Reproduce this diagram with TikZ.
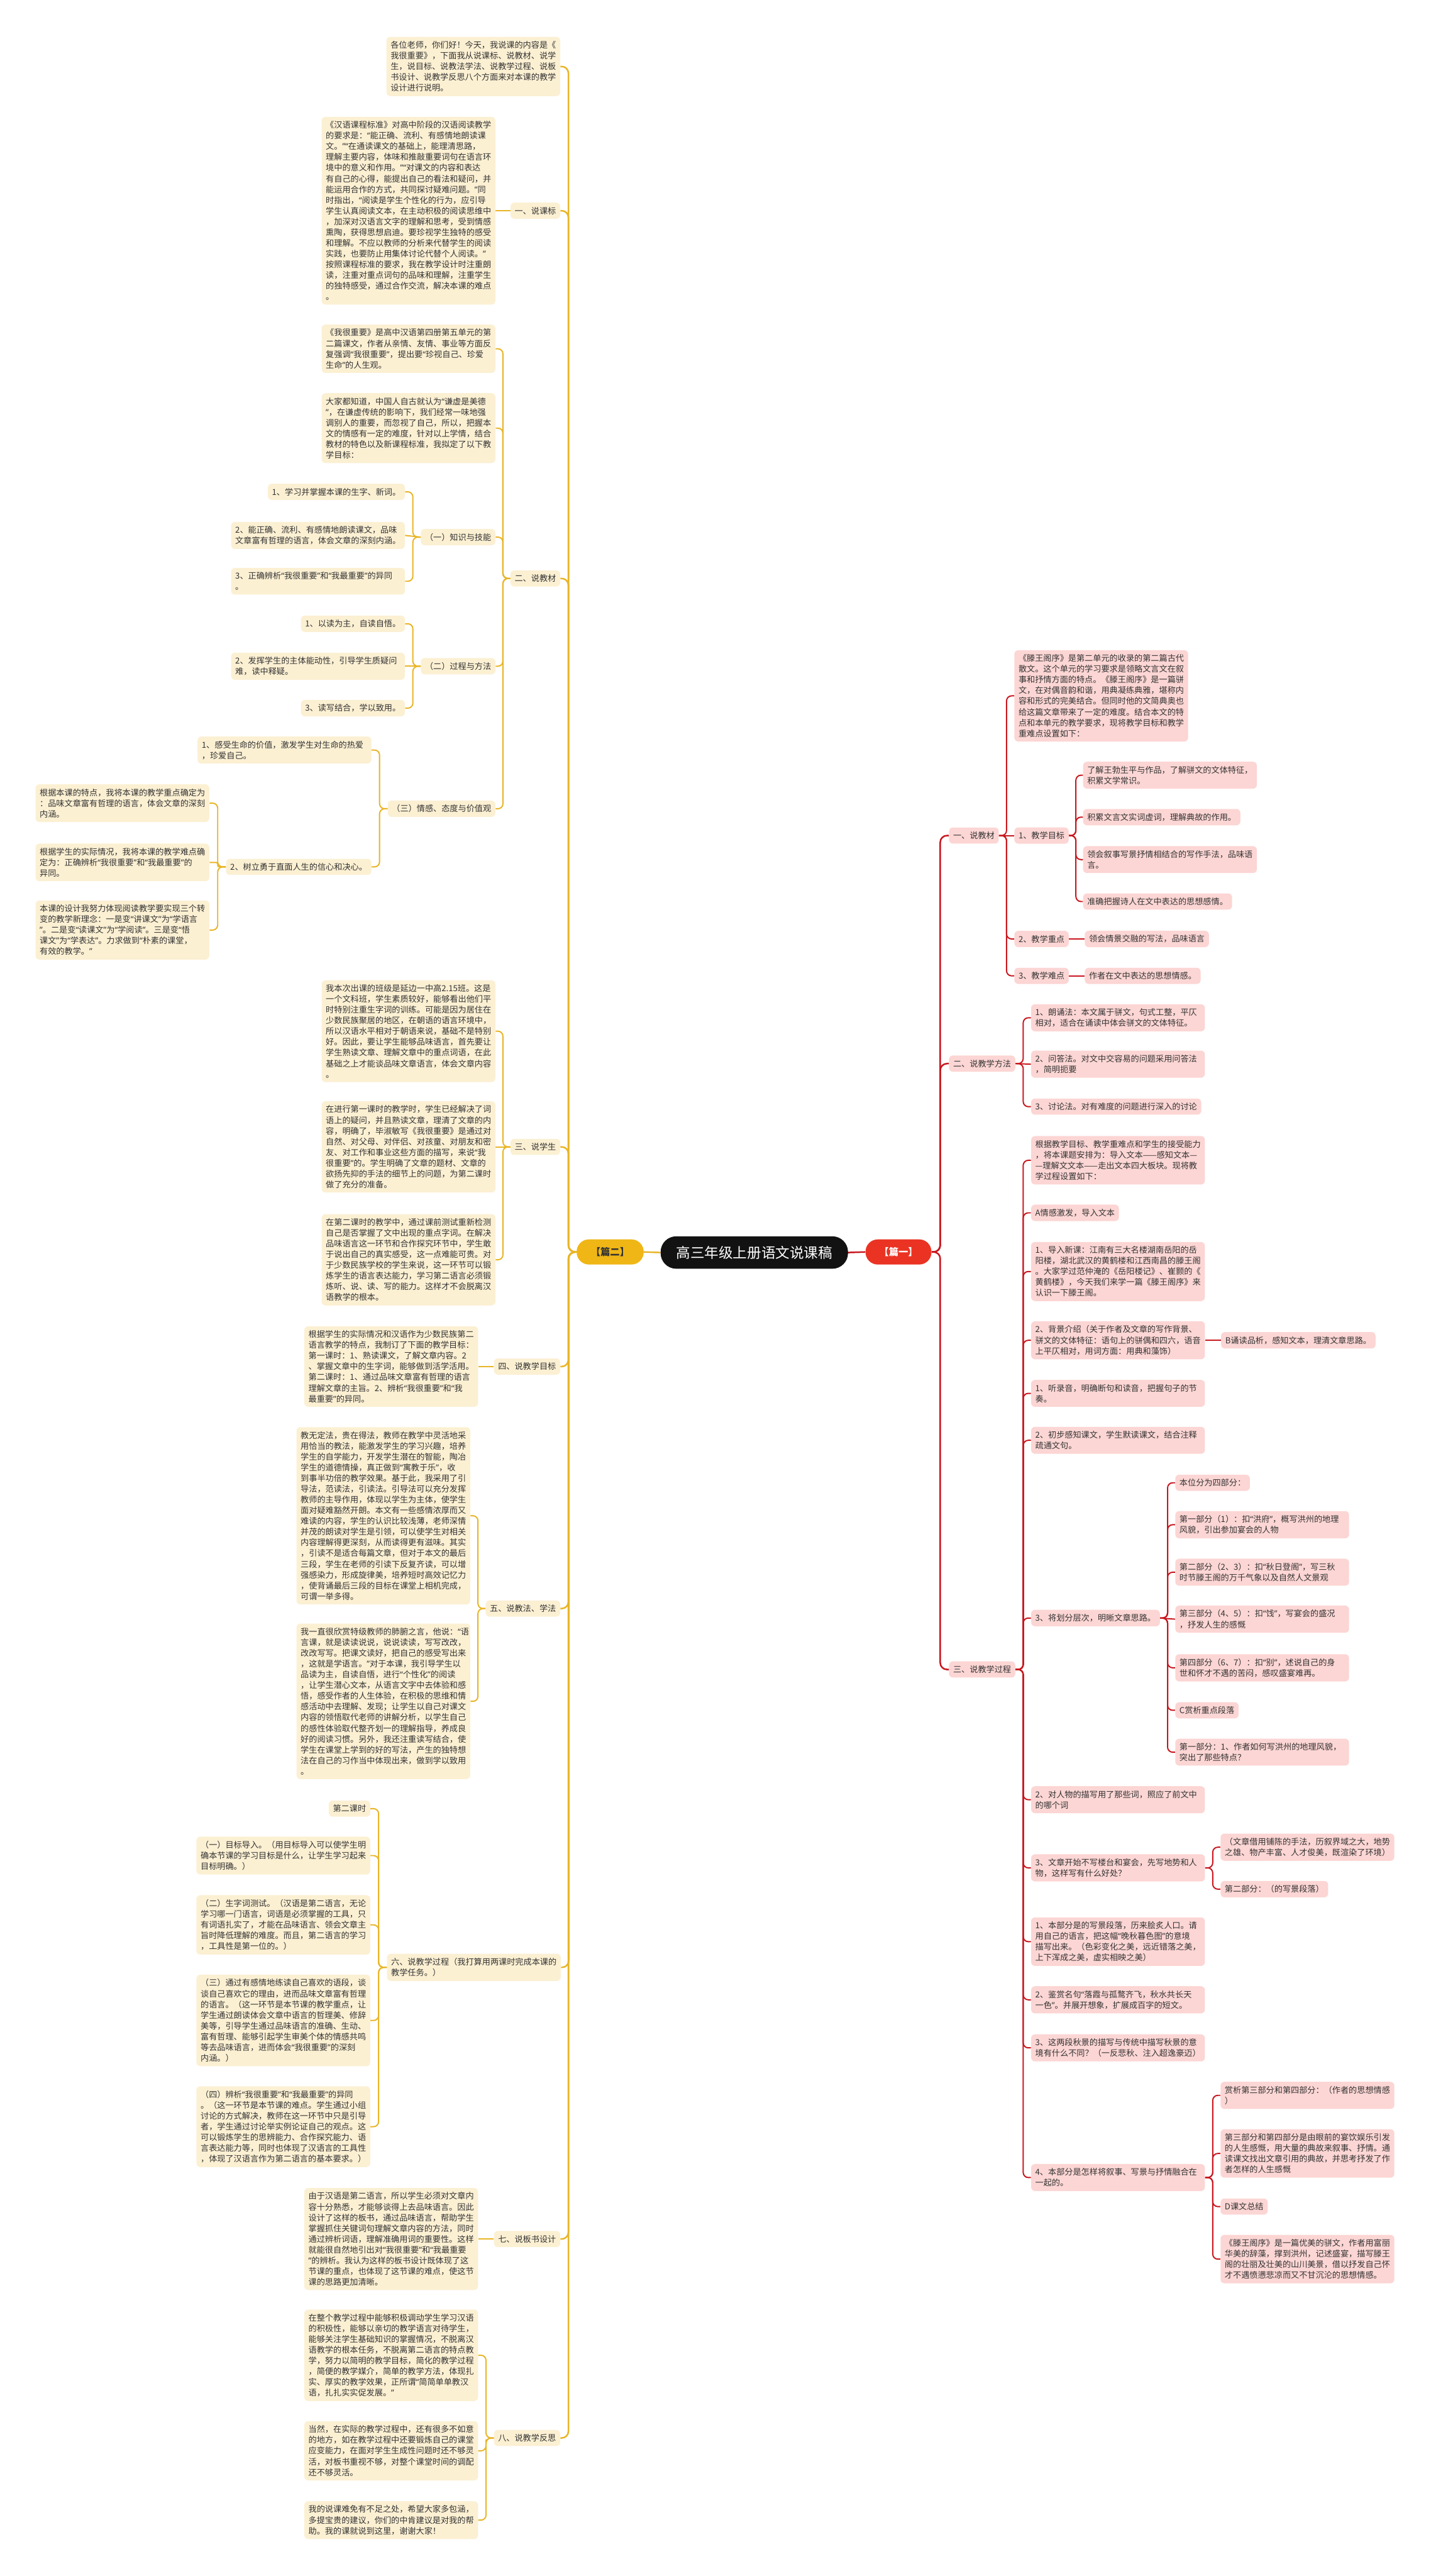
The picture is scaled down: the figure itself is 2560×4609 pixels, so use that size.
\documentclass[tikz,border=0pt]{standalone}
\usepackage{fontspec}
\usetikzlibrary{calc}
\newfontfamily\cjk{Noto Sans CJK SC}
\newfontfamily\qfont{Noto Sans}
\definecolor{lfill}{HTML}{FCF0D3}
\definecolor{rfill}{HTML}{FCD6D4}
\definecolor{lline}{HTML}{E8B526}
\definecolor{rline}{HTML}{C8171E}
\definecolor{txt}{HTML}{333333}
\definecolor{redc}{HTML}{EB3323}
\definecolor{yelc}{HTML}{EFB616}
\catcode`“=\active
\protected\def“{{\qfont\char"201C}}
\catcode`”=\active
\protected\def”{{\qfont\char"201D}}
\tikzset{
  base/.style={rounded corners=3.5pt, inner xsep=3.75pt, inner ysep=3.8pt,
    font=\cjk\fontsize{7.4}{9.6}\selectfont, align=left, text=txt},
  lb/.style={base, fill=lfill},
  rb/.style={base, fill=rfill},
  wide/.style={text width=148pt},
  ll1/.style={draw=lline, line width=1.4pt, rounded corners=6pt},
  ll2/.style={draw=lline, line width=1.1pt, rounded corners=4.5pt},
  rl1/.style={draw=rline, line width=1.4pt, rounded corners=6pt},
  rl2/.style={draw=rline, line width=1.1pt, rounded corners=4.5pt},
}
\newcommand\cn[3]{\draw[#1] (#2) -| ($(#2)!0.5!(#3)$) |- (#3);}
\newcommand\sn[3]{\draw[#1] (#2) -- (#3);}
\begin{document}
\begin{tikzpicture}[x=0.5pt,y=-0.5pt]
\fill[white] (0,0) rectangle (2560,4609);
\useasboundingbox (0,0) rectangle (2560,4609);

% ---------- centre ----------
\node[fill=black!93, text=white, rounded corners=14pt, minimum height=29pt, inner xsep=14pt,
  font=\cjk\fontsize{12.7}{14}\selectfont] (C) at (1350,2241) {高三年级上册语文说课稿};
\node[fill=redc, text=white, rounded corners=11pt, minimum height=22.5pt, minimum width=59pt,
  font=\cjk\bfseries\fontsize{8.6}{10}\selectfont] (P1) at (1608,2240) {【篇一】};
\node[fill=yelc, text=txt, rounded corners=11pt, minimum height=22.5pt, minimum width=60pt,
  font=\cjk\bfseries\fontsize{8.6}{10}\selectfont] (P2) at (1092,2240) {【篇二】};
\draw[rline, line width=1.4pt] (C.east) -- (P1.west);
\draw[lline, line width=1.4pt] (C.west) -- (P2.east);

% ================= LEFT (篇二) =================
\node[lb,wide,anchor=east] (L0) at (1003,119) {各位老师，你们好！今天，我说课的内容是《\\我很重要》，下面我从说课标、说教材、说学\\生，说目标、说教法学法、说教学过程、说板\\书设计、说教学反思八个方面来对本课的教学\\设计进行说明。};

\node[lb,anchor=east] (L1) at (1003,377) {一、说课标};
\node[lb,wide,anchor=east] (L1a) at (887,377) {《汉语课程标准》对高中阶段的汉语阅读教学\\的要求是：“能正确、流利、有感情地朗读课\\文。”“在通读课文的基础上，能理清思路，\\理解主要内容，体味和推敲重要词句在语言环\\境中的意义和作用。”“对课文的内容和表达\\有自己的心得，能提出自己的看法和疑问，并\\能运用合作的方式，共同探讨疑难问题。”同\\时指出，“阅读是学生个性化的行为，应引导\\学生认真阅读文本，在主动积极的阅读思维中\\，加深对汉语言文字的理解和思考，受到情感\\熏陶，获得思想启迪。要珍视学生独特的感受\\和理解。不应以教师的分析来代替学生的阅读\\实践，也要防止用集体讨论代替个人阅读。”\\按照课程标准的要求，我在教学设计时注重朗\\读，注重对重点词句的品味和理解，注重学生\\的独特感受，通过合作交流，解决本课的难点\\。};

\node[lb,anchor=east] (L2) at (1003,1035) {二、说教材};
\node[lb,wide,anchor=east] (L2a) at (887,624) {《我很重要》是高中汉语第四册第五单元的第\\二篇课文，作者从亲情、友情、事业等方面反\\复强调“我很重要”，提出要“珍视自己、珍爱\\生命”的人生观。};
\node[lb,wide,anchor=east] (L2b) at (887,766) {大家都知道，中国人自古就认为“谦虚是美德\\”，在谦虚传统的影响下，我们经常一味地强\\调别人的重要，而忽视了自己，所以，把握本\\文的情感有一定的难度，针对以上学情，结合\\教材的特色以及新课程标准，我拟定了以下教\\学目标：};
\node[lb,anchor=east] (L2c) at (887,961) {（一）知识与技能};
\node[lb,anchor=east] (L2c1) at (725,880) {1、学习并掌握本课的生字、新词。};
\node[lb,wide,anchor=east] (L2c2) at (725,958) {2、能正确、流利、有感情地朗读课文，品味\\文章富有哲理的语言，体会文章的深刻内涵。};
\node[lb,wide,anchor=east] (L2c3) at (725,1040) {3、正确辨析“我很重要”和“我最重要”的异同\\。};
\node[lb,anchor=east] (L2d) at (887,1192) {（二）过程与方法};
\node[lb,anchor=east] (L2d1) at (725,1116) {1、以读为主，自读自悟。};
\node[lb,wide,anchor=east] (L2d2) at (725,1192) {2、发挥学生的主体能动性，引导学生质疑问\\难，读中释疑。};
\node[lb,anchor=east] (L2d3) at (725,1267) {3、读写结合，学以致用。};
\node[lb,anchor=east] (L2e) at (887,1447) {（三）情感、态度与价值观};
\node[lb,wide,anchor=east] (L2e1) at (665,1342) {1、感受生命的价值，激发学生对生命的热爱\\，珍爱自己。};
\node[lb,anchor=east] (L2e2) at (665,1551) {2、树立勇于直面人生的信心和决心。};
\node[lb,wide,anchor=east] (L2e2a) at (375,1437) {根据本课的特点，我将本课的教学重点确定为\\：品味文章富有哲理的语言，体会文章的深刻\\内涵。};
\node[lb,wide,anchor=east] (L2e2b) at (375,1543) {根据学生的实际情况，我将本课的教学难点确\\定为：正确辨析“我很重要”和“我最重要”的\\异同。};
\node[lb,wide,anchor=east] (L2e2c) at (375,1664) {本课的设计我努力体现阅读教学要实现三个转\\变的教学新理念：一是变“讲课文”为“学语言\\”。二是变“读课文”为“学阅读”。三是变“悟\\课文”为“学表达”。力求做到“朴素的课堂，\\有效的教学。”};

\node[lb,anchor=east] (L3) at (1003,2052) {三、说学生};
\node[lb,wide,anchor=east] (L3a) at (887,1845) {我本次出课的班级是延边一中高2.15班。这是\\一个文科班，学生素质较好，能够看出他们平\\时特别注重生字词的训练。可能是因为居住在\\少数民族聚居的地区，在朝语的语言环境中，\\所以汉语水平相对于朝语来说，基础不是特别\\好。因此，要让学生能够品味语言，首先要让\\学生熟读文章、理解文章中的重点词语，在此\\基础之上才能谈品味文章语言，体会文章内容\\。};
\node[lb,wide,anchor=east] (L3b) at (887,2052) {在进行第一课时的教学时，学生已经解决了词\\语上的疑问，并且熟读文章，理清了文章的内\\容，明确了，毕淑敏写《我很重要》是通过对\\自然、对父母、对伴侣、对孩童、对朋友和密\\友、对工作和事业这些方面的描写，来说“我\\很重要”的。学生明确了文章的题材、文章的\\欲扬先抑的手法的细节上的问题，为第二课时\\做了充分的准备。};
\node[lb,wide,anchor=east] (L3c) at (887,2254) {在第二课时的教学中，通过课前测试重新检测\\自己是否掌握了文中出现的重点字词。在解决\\品味语言这一环节和合作探究环节中，学生敢\\于说出自己的真实感受，这一点难能可贵。对\\于少数民族学校的学生来说，这一环节可以锻\\炼学生的语言表达能力，学习第二语言必须锻\\炼听、说、读、写的能力。这样才不会脱离汉\\语教学的根本。};

\node[lb,anchor=east] (L4) at (1003,2445) {四、说教学目标};
\node[lb,wide,anchor=east] (L4a) at (856,2445) {根据学生的实际情况和汉语作为少数民族第二\\语言教学的特点，我制订了下面的教学目标：\\第一课时：1、熟读课文，了解文章内容。2\\、掌握文章中的生字词，能够做到活学活用。\\第二课时：1、通过品味文章富有哲理的语言\\理解文章的主旨。2、辨析“我很重要”和“我\\最重要”的异同。};

\node[lb,anchor=east] (L5) at (1003,2878) {五、说教法、学法};
\node[lb,wide,anchor=east] (L5a) at (842,2712) {教无定法，贵在得法，教师在教学中灵活地采\\用恰当的教法，能激发学生的学习兴趣，培养\\学生的自学能力，开发学生潜在的智能，陶冶\\学生的道德情操，真正做到“寓教于乐”，收\\到事半功倍的教学效果。基于此，我采用了引\\导法，范读法，引读法。引导法可以充分发挥\\教师的主导作用，体现以学生为主体，使学生\\面对疑难豁然开朗。本文有一些感情浓厚而又\\难读的内容，学生的认识比较浅薄，老师深情\\并茂的朗读对学生是引领，可以使学生对相关\\内容理解得更深刻，从而读得更有滋味。其实\\，引读不是适合每篇文章，但对于本文的最后\\三段，学生在老师的引读下反复齐读，可以增\\强感染力，形成旋律美，培养短时高效记忆力\\，使背诵最后三段的目标在课堂上相机完成，\\可谓一举多得。};
\node[lb,wide,anchor=east] (L5b) at (842,3044) {我一直很欣赏特级教师的肺腑之言，他说：“语\\言课，就是读读说说，说说读读，写写改改，\\改改写写。把课文读好，把自己的感受写出来\\，这就是学语言。”对于本课，我引导学生以\\品读为主，自读自悟，进行“个性化”的阅读\\，让学生潜心文本，从语言文字中去体验和感\\悟，感受作者的人生体验，在积极的思维和情\\感活动中去理解、发现；让学生以自己对课文\\内容的领悟取代老师的讲解分析，以学生自己\\的感性体验取代整齐划一的理解指导，养成良\\好的阅读习惯。另外，我还注重读写结合，使\\学生在课堂上学到的好的写法，产生的独特想\\法在自己的习作当中体现出来，做到学以致用\\。};

\node[lb,wide,anchor=east] (L6) at (1004,3520) {六、说教学过程（我打算用两课时完成本课的\\教学任务。）};
\node[lb,anchor=east] (L6a) at (663,3236) {第二课时};
\node[lb,wide,anchor=east] (L6b) at (663,3320) {（一）目标导入。（用目标导入可以使学生明\\确本节课的学习目标是什么，让学生学习起来\\目标明确。）};
\node[lb,wide,anchor=east] (L6c) at (663,3444) {（二）生字词测试。（汉语是第二语言，无论\\学习哪一门语言，词语是必须掌握的工具，只\\有词语扎实了，才能在品味语言、领会文章主\\旨时降低理解的难度。而且，第二语言的学习\\，工具性是第一位的。）};
\node[lb,wide,anchor=east] (L6d) at (663,3615) {（三）通过有感情地练读自己喜欢的语段，谈\\谈自己喜欢它的理由，进而品味文章富有哲理\\的语言。（这一环节是本节课的教学重点，让\\学生通过朗读体会文章中语言的哲理美、修辞\\美等，引导学生通过品味语言的准确、生动、\\富有哲理、能够引起学生审美个体的情感共鸣\\等去品味语言，进而体会“我很重要”的深刻\\内涵。）};
\node[lb,wide,anchor=east] (L6e) at (663,3805) {（四）辨析“我很重要”和“我最重要”的异同\\。（这一环节是本节课的难点。学生通过小组\\讨论的方式解决，教师在这一环节中只是引导\\者，学生通过讨论举实例论证自己的观点。这\\可以锻炼学生的思辨能力、合作探究能力、语\\言表达能力等，同时也体现了汉语言的工具性\\，体现了汉语言作为第二语言的基本要求。）};

\node[lb,anchor=east] (L7) at (1003,4006) {七、说板书设计};
\node[lb,wide,anchor=east] (L7a) at (856,4006) {由于汉语是第二语言，所以学生必须对文章内\\容十分熟悉，才能够谈得上去品味语言。因此\\设计了这样的板书，通过品味语言，帮助学生\\掌握抓住关键词句理解文章内容的方法，同时\\通过辨析词语，理解准确用词的重要性。这样\\就能很自然地引出对“我很重要”和“我最重要\\”的辨析。我认为这样的板书设计既体现了这\\节课的重点，也体现了这节课的难点，使这节\\课的思路更加清晰。};

\node[lb,anchor=east] (L8) at (1003,4362) {八、说教学反思};
\node[lb,wide,anchor=east] (L8a) at (856,4214) {在整个教学过程中能够积极调动学生学习汉语\\的积极性，能够以亲切的教学语言对待学生，\\能够关注学生基础知识的掌握情况，不脱离汉\\语教学的根本任务，不脱离第二语言的特点教\\学，努力以简明的教学目标，简化的教学过程\\，简便的教学媒介，简单的教学方法，体现扎\\实、厚实的教学效果，正所谓“简简单单教汉\\语，扎扎实实促发展。”};
\node[lb,wide,anchor=east] (L8b) at (856,4385) {当然，在实际的教学过程中，还有很多不如意\\的地方，如在教学过程中还要锻炼自己的课堂\\应变能力，在面对学生生成性问题时还不够灵\\活，对板书重视不够，对整个课堂时间的调配\\还不够灵活。};
\node[lb,wide,anchor=east] (L8c) at (856,4509) {我的说课难免有不足之处，希望大家多包涵，\\多提宝贵的建议，你们的中肯建议是对我的帮\\助。我的课就说到这里，谢谢大家！};

% left connectors
\foreach \n in {L0,L1,L2,L3,L4,L5,L6,L7,L8}{\cn{ll1}{P2.west}{\n.east}}
\sn{ll2}{L1.west}{L1a.east}
\foreach \n in {L2a,L2b,L2e}{\cn{ll2}{L2.west}{\n.east}}
\cn{ll2}{L2.west}{L2c.east}
\cn{ll2}{L2.west}{L2d.east}
\cn{ll2}{L2c.west}{L2c1.east}
\sn{ll2}{L2c.west}{L2c2.east}
\cn{ll2}{L2c.west}{L2c3.east}
\cn{ll2}{L2d.west}{L2d1.east}
\sn{ll2}{L2d.west}{L2d2.east}
\cn{ll2}{L2d.west}{L2d3.east}
\cn{ll2}{L2e.west}{L2e1.east}
\cn{ll2}{L2e.west}{L2e2.east}
\cn{ll2}{L2e2.west}{L2e2a.east}
\cn{ll2,rounded corners=1.5pt}{L2e2.west}{L2e2b.east}
\cn{ll2}{L2e2.west}{L2e2c.east}
\cn{ll2}{L3.west}{L3a.east}
\sn{ll2}{L3.west}{L3b.east}
\cn{ll2}{L3.west}{L3c.east}
\sn{ll2}{L4.west}{L4a.east}
\cn{ll2}{L5.west}{L5a.east}
\cn{ll2}{L5.west}{L5b.east}
\foreach \n in {L6a,L6b,L6c,L6d,L6e}{\cn{ll2}{L6.west}{\n.east}}
\sn{ll2}{L7.west}{L7a.east}
\foreach \n in {L8a,L8b,L8c}{\cn{ll2}{L8.west}{\n.east}}

% ================= RIGHT (篇一) =================
\node[rb,anchor=west] (R1) at (1698,1495) {一、说教材};
\node[rb,wide,anchor=west] (R1a) at (1815,1245) {《滕王阁序》是第二单元的收录的第二篇古代\\散文。这个单元的学习要求是领略文言文在叙\\事和抒情方面的特点。《滕王阁序》是一篇骈\\文，在对偶音韵和谐，用典凝练典雅，堪称内\\容和形式的完美结合。但同时他的文简典奥也\\给这篇文章带来了一定的难度。结合本文的特\\点和本单元的教学要求，现将教学目标和教学\\重难点设置如下：};
\node[rb,anchor=west] (R1b) at (1815,1495) {1、教学目标};
\node[rb,wide,anchor=west] (R1b1) at (1938,1387) {了解王勃生平与作品，了解骈文的文体特征，\\积累文学常识。};
\node[rb,anchor=west] (R1b2) at (1938,1462) {积累文言文实词虚词，理解典故的作用。};
\node[rb,wide,anchor=west] (R1b3) at (1938,1538) {领会叙事写景抒情相结合的写作手法，品味语\\言。};
\node[rb,anchor=west] (R1b4) at (1938,1613) {准确把握诗人在文中表达的思想感情。};
\node[rb,anchor=west] (R1c) at (1815,1680) {2、教学重点};
\node[rb,anchor=west] (R1c1) at (1941,1680) {领会情景交融的写法，品味语言};
\node[rb,anchor=west] (R1d) at (1815,1746) {3、教学难点};
\node[rb,anchor=west] (R1d1) at (1941,1746) {作者在文中表达的思想情感。};

\node[rb,anchor=west] (R2) at (1698,1903) {二、说教学方法};
\node[rb,wide,anchor=west] (R2a) at (1845,1821) {1、朗诵法：本文属于骈文，句式工整，平仄\\相对，适合在诵读中体会骈文的文体特征。};
\node[rb,wide,anchor=west] (R2b) at (1845,1904) {2、问答法。对文中交容易的问题采用问答法\\，简明扼要};
\node[rb,anchor=west] (R2c) at (1845,1980) {3、讨论法。对有难度的问题进行深入的讨论};

\node[rb,anchor=west] (R3) at (1698,2987) {三、说教学过程};
\node[rb,wide,anchor=west] (R3a) at (1845,2076) {根据教学目标、教学重难点和学生的接受能力\\，将本课题安排为：导入文本——感知文本—\\—理解文文本——走出文本四大板块。现将教\\学过程设置如下：};
\node[rb,anchor=west] (R3b) at (1845,2170) {A情感激发，导入文本};
\node[rb,wide,anchor=west] (R3c) at (1845,2275) {1、导入新课：江南有三大名楼湖南岳阳的岳\\阳楼，湖北武汉的黄鹤楼和江西南昌的滕王阁\\。大家学过范仲淹的《岳阳楼记》、崔颢的《\\黄鹤楼》，今天我们来学一篇《滕王阁序》来\\认识一下滕王阁。};
\node[rb,wide,anchor=west] (R3d) at (1845,2398) {2、背景介绍（关于作者及文章的写作背景、\\骈文的文体特征：语句上的骈偶和四六，语音\\上平仄相对，用词方面：用典和藻饰）};
\node[rb,anchor=west] (R3d1) at (2185,2398) {B诵读品析，感知文本，理清文章思路。};
\node[rb,wide,anchor=west] (R3e) at (1845,2493) {1、听录音，明确断句和读音，把握句子的节\\奏。};
\node[rb,wide,anchor=west] (R3f) at (1845,2577) {2、初步感知课文，学生默读课文，结合注释\\疏通文句。};
\node[rb,anchor=west] (R3g) at (1845,2895) {3、将划分层次，明晰文章思路。};
\node[rb,anchor=west] (R3g1) at (2103,2653) {本位分为四部分：};
\node[rb,wide,anchor=west] (R3g2) at (2103,2728) {第一部分（1）：扣“洪府”，概写洪州的地理\\风貌，引出参加宴会的人物};
\node[rb,wide,anchor=west] (R3g3) at (2103,2813) {第二部分（2、3）：扣“秋日登阁”，写三秋\\时节滕王阁的万千气象以及自然人文景观};
\node[rb,wide,anchor=west] (R3g4) at (2103,2897) {第三部分（4、5）：扣“饯”，写宴会的盛况\\，抒发人生的感慨};
\node[rb,wide,anchor=west] (R3g5) at (2103,2984) {第四部分（6、7）：扣“别”，述说自己的身\\世和怀才不遇的苦闷，感叹盛宴难再。};
\node[rb,anchor=west] (R3g6) at (2103,3060) {C赏析重点段落};
\node[rb,wide,anchor=west] (R3g7) at (2103,3135) {第一部分：1、作者如何写洪州的地理风貌，\\突出了那些特点？};
\node[rb,wide,anchor=west] (R3h) at (1845,3220) {2、对人物的描写用了那些词，照应了前文中\\的哪个词};
\node[rb,wide,anchor=west] (R3i) at (1845,3342) {3、文章开始不写楼台和宴会，先写地势和人\\物，这样写有什么好处？};
\node[rb,wide,anchor=west] (R3i1) at (2184,3305) {（文章借用铺陈的手法，历叙界域之大，地势\\之雄、物产丰富、人才俊美，既渲染了环境）};
\node[rb,anchor=west] (R3i2) at (2184,3380) {第二部分：（的写景段落）};
\node[rb,wide,anchor=west] (R3j) at (1845,3474) {1、本部分是的写景段落，历来脍炙人口。请\\用自己的语言，把这幅“晚秋暮色图”的意境\\描写出来。（色彩变化之美，远近错落之美，\\上下浑成之美，虚实相映之美）};
\node[rb,wide,anchor=west] (R3k) at (1845,3578) {2、鉴赏名句“落霞与孤鹜齐飞，秋水共长天\\一色”。并展开想象，扩展成百字的短文。};
\node[rb,wide,anchor=west] (R3l) at (1845,3664) {3、这两段秋景的描写与传统中描写秋景的意\\境有什么不同？（一反悲秋、注入超逸豪迈）};
\node[rb,wide,anchor=west] (R3m) at (1845,3896) {4、本部分是怎样将叙事、写景与抒情融合在\\一起的。};
\node[rb,wide,anchor=west] (R3m1) at (2184,3749) {赏析第三部分和第四部分：（作者的思想情感\\）};
\node[rb,wide,anchor=west] (R3m2) at (2184,3853) {第三部分和第四部分是由眼前的宴饮娱乐引发\\的人生感慨，用大量的典故来叙事、抒情。通\\读课文找出文章引用的典故，并思考抒发了作\\者怎样的人生感慨};
\node[rb,anchor=west] (R3m3) at (2184,3948) {D课文总结};
\node[rb,wide,anchor=west] (R3m4) at (2184,4042) {《滕王阁序》是一篇优美的骈文，作者用富丽\\华美的辞藻，撑到洪州，记述盛宴，描写滕王\\阁的壮丽及壮美的山川美景，借以抒发自己怀\\才不遇愤懑悲凉而又不甘沉沦的思想情感。};

% right connectors
\foreach \n in {R1,R2,R3}{\cn{rl1}{P1.east}{\n.west}}
\cn{rl2}{R1.east}{R1a.west}
\sn{rl2}{R1.east}{R1b.west}
\cn{rl2}{R1.east}{R1c.west}
\cn{rl2}{R1.east}{R1d.west}
\foreach \n in {R1b1,R1b2,R1b3,R1b4}{\cn{rl2}{R1b.east}{\n.west}}
\sn{rl2}{R1c.east}{R1c1.west}
\sn{rl2}{R1d.east}{R1d1.west}
\cn{rl2}{R2.east}{R2a.west}
\sn{rl2}{R2.east}{R2b.west}
\cn{rl2}{R2.east}{R2c.west}
\foreach \n in {R3a,R3b,R3c,R3d,R3e,R3f,R3g,R3h,R3i,R3j,R3k,R3l,R3m}{\cn{rl2}{R3.east}{\n.west}}
\sn{rl2}{R3d.east}{R3d1.west}
\foreach \n in {R3g1,R3g2,R3g3,R3g5,R3g6,R3g7}{\cn{rl2}{R3g.east}{\n.west}}
\sn{rl2}{R3g.east}{R3g4.west}
\cn{rl2}{R3i.east}{R3i1.west}
\cn{rl2}{R3i.east}{R3i2.west}
\foreach \n in {R3m1,R3m2,R3m3,R3m4}{\cn{rl2}{R3m.east}{\n.west}}
\end{tikzpicture}
\end{document}
